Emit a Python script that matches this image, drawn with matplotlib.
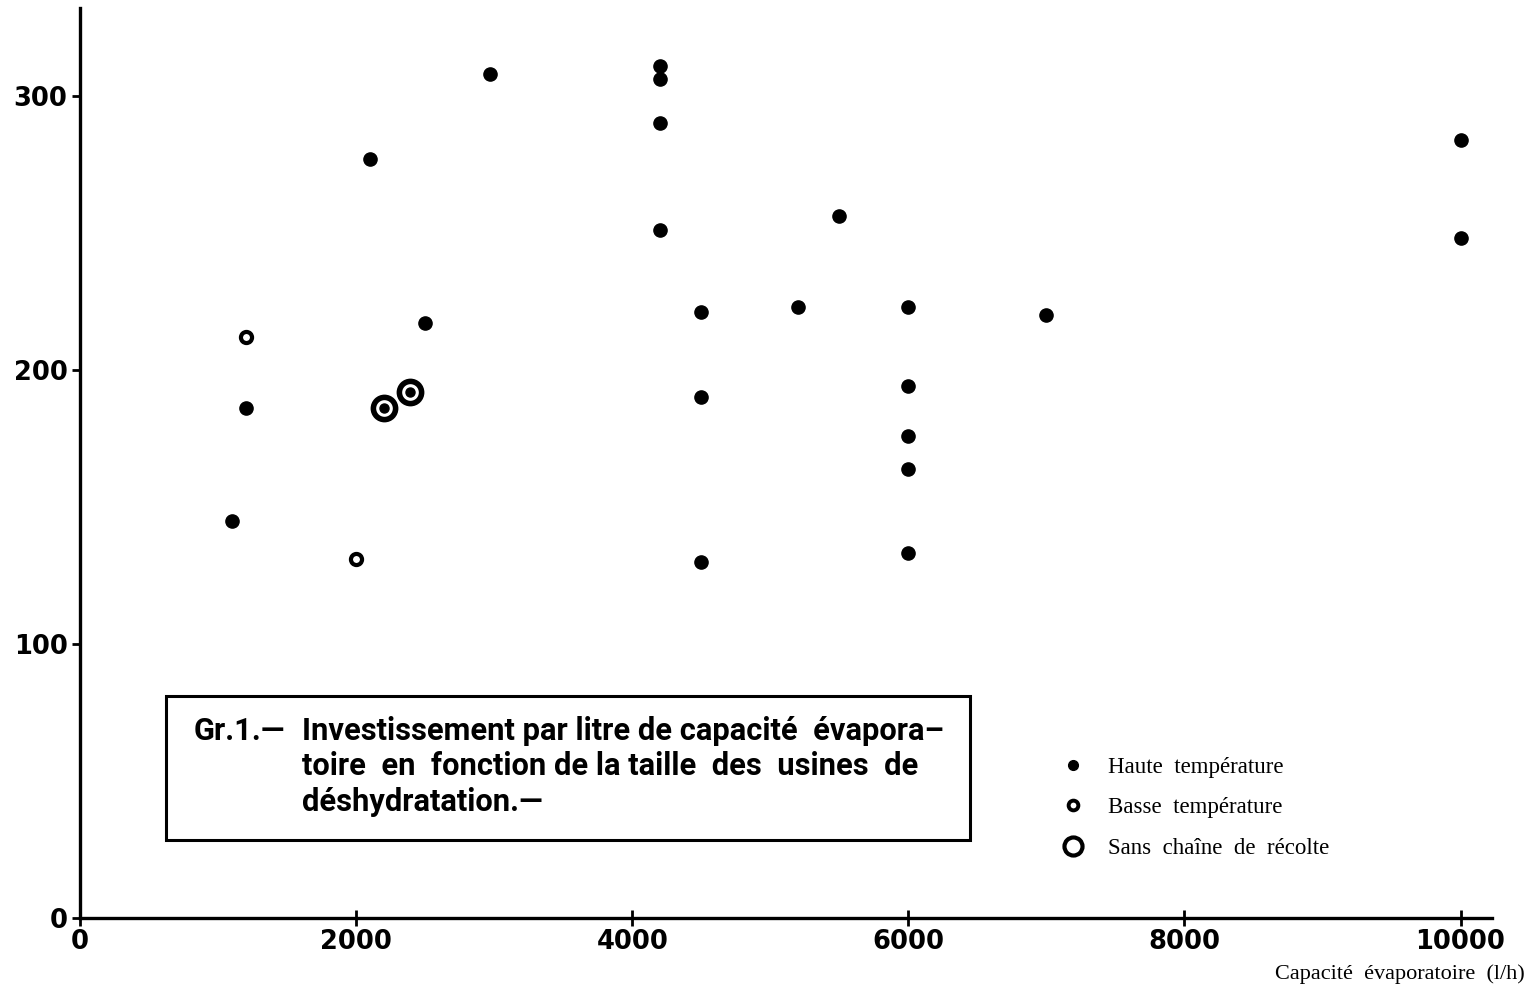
import matplotlib
matplotlib.use("Agg")
import matplotlib.pyplot as plt
from matplotlib.lines import Line2D
from matplotlib.patches import Rectangle

# Haute température (filled dots)
haute_x = [1100, 1200, 2100, 2500, 2970, 4200, 4200, 4200, 4200, 4500, 4500, 4500,
           5200, 5500, 6000, 6000, 6000, 6000, 6000, 7000, 10000, 10000]
haute_y = [145, 186, 277, 217, 308, 311, 306, 290, 251, 221, 190, 130,
           223, 256, 223, 194, 176, 164, 133, 220, 284, 248]

# Basse température (small rings)
basse_x = [1200, 2000]
basse_y = [212, 131]

# Sans chaîne de récolte (large rings)
sans_x = [2200, 2390]
sans_y = [186, 192]

fig = plt.figure(figsize=(15.4, 9.9), dpi=100)
ax = fig.add_axes([0.052, 0.0727, 0.917, 0.9192])

ax.plot(haute_x, haute_y, ls="none", marker="o", ms=9.5, color="black")
ax.plot(basse_x, basse_y, ls="none", marker="o", ms=8, mfc="white", mec="black", mew=3)
# big ring with a dot in the middle
ax.plot(sans_x, sans_y, ls="none", marker="o", ms=16, mfc="white", mec="black", mew=4)
ax.plot(sans_x, sans_y, ls="none", marker="o", ms=6.5, color="black")

ax.set_xlim(0, 10230)
ax.set_ylim(0, 332)
ax.set_xticks([0, 2000, 4000, 6000, 8000, 10000])
ax.set_yticks([0, 100, 200, 300])

for s in ["top", "right"]:
    ax.spines[s].set_visible(False)
for s in ["left", "bottom"]:
    ax.spines[s].set_linewidth(2.4)

ax.tick_params(axis="x", direction="inout", length=12, width=2, labelsize=18.5, pad=2)
ax.tick_params(axis="y", direction="out", length=6, width=2, labelsize=18.5, pad=3)
for lab in ax.get_xticklabels() + ax.get_yticklabels():
    lab.set_fontweight("bold")
    lab.set_family("DejaVu Sans")

fig.text(0.990, 0.006, "Capacité  évaporatoire  (l/h)", ha="right", va="bottom",
         family="Liberation Serif", fontsize=16)

# title box
ax.add_patch(Rectangle((0.0609, 0.0857), 0.5694, 0.1583, transform=ax.transAxes,
                       fill=False, lw=2.2, ec="black"))
tfont = dict(family=["Roboto", "DejaVu Sans"], fontsize=22.2,
             fontweight="bold", transform=ax.transAxes, va="center", ha="left")
ax.text(0.0807, 0.205, "Gr.1.—", **tfont)
ax.text(0.157, 0.205, "Investissement par litre de capacité  évapora–", **tfont)
ax.text(0.157, 0.167, "toire  en  fonction de la taille  des  usines  de", **tfont)
ax.text(0.157, 0.128, "déshydratation.—", **tfont)

handles = [
    Line2D([], [], ls="none", marker="o", ms=7, color="black"),
    Line2D([], [], ls="none", marker="o", ms=7, mfc="white", mec="black", mew=2.8),
    Line2D([], [], ls="none", marker="o", ms=13, mfc="white", mec="black", mew=3),
]
labels = ["Haute  température", "Basse  température", "Sans  chaîne  de  récolte"]
ax.legend(handles, labels, loc="upper left", bbox_to_anchor=(0.679, 0.2),
          frameon=False, prop={"family": "Liberation Serif", "size": 16.5},
          handletextpad=0.9, labelspacing=0.85, handlelength=1.2)

fig.savefig("out.png", dpi=100)
